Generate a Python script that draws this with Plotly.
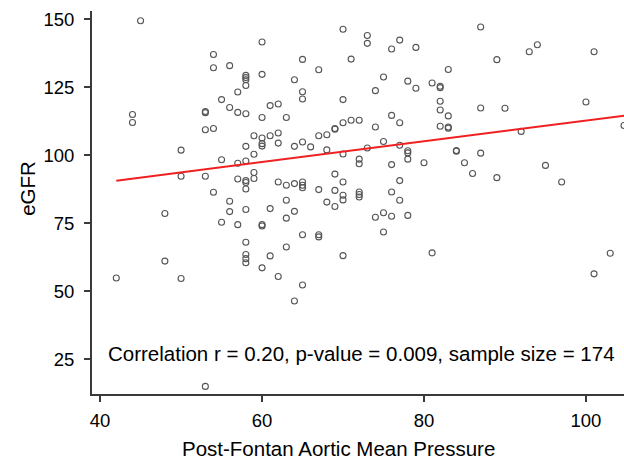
import plotly.graph_objects as go

# Post-Fontan aortic mean pressure (x) and eGFR (y)
pressure = [
    45, 54, 54, 56, 58, 58, 58, 58, 57, 55, 56, 57, 58, 53, 53, 44, 44, 53, 54, 59,
    58, 59, 50, 55, 57, 58, 50, 53, 57, 58, 58, 59, 59, 58, 54, 56, 56, 58, 55, 57,
    48, 58, 58, 58, 58, 48, 42, 50, 53,
    70, 73, 73, 77, 76, 79, 60, 65, 71, 67, 60, 64, 65, 65, 75, 78, 79, 81, 82, 82,
    74, 70, 61, 62, 60, 63, 70, 71, 72, 69, 69, 67, 68, 74, 76, 77, 60, 60, 60, 61,
    62, 62, 64, 65, 66, 68, 70, 73, 75, 77, 78, 78, 78, 80, 76, 72, 72, 62, 63, 64,
    65, 65, 65, 67, 69, 70, 69, 70, 70, 72, 72, 72, 77, 76,
    68, 69, 77, 74, 75, 76, 78, 75, 81, 61, 63, 64, 63, 60, 60, 61, 60, 63, 65, 67,
    67, 70, 62, 65, 64,
    87, 93, 94, 101, 89, 83, 82, 82, 83, 82, 83, 83, 87, 90, 100, 92, 104.7, 84, 84, 87,
    85, 86, 89, 95, 97, 101, 103,
]
egfr = [
    149.5, 137.1, 132.2, 133.0, 129.4, 128.6, 127.8, 125.7, 123.3, 120.5, 117.6, 115.8, 115.3, 116.1, 115.7, 115.0, 112.1, 109.4, 109.9, 107.2,
    103.3, 100.4, 101.9, 98.4, 97.1, 97.9, 92.3, 92.3, 91.3, 90.7, 90.0, 93.7, 91.5, 87.6, 86.4, 83.1, 79.3, 80.1, 75.4, 74.5,
    78.6, 68.0, 63.5, 62.0, 60.5, 61.1, 54.9, 54.7, 15.0,
    146.4, 144.1, 141.2, 142.4, 139.1, 139.7, 141.7, 135.3, 135.4, 131.5, 129.8, 127.8, 123.4, 120.7, 128.8, 127.3, 124.7, 126.6, 125.4, 124.9,
    123.8, 120.5, 118.3, 118.9, 113.9, 113.9, 112.0, 112.9, 112.9, 109.9, 109.6, 107.2, 107.6, 110.4, 114.7, 112.0, 106.4, 104.3, 103.4, 107.2,
    108.2, 104.5, 103.3, 104.9, 103.1, 102.0, 100.5, 102.7, 105.1, 103.7, 101.7, 100.9, 98.6, 97.3, 96.6, 98.6, 96.9, 90.2, 89.0, 89.6,
    90.2, 89.0, 88.1, 87.4, 93.1, 90.2, 87.1, 85.3, 83.6, 86.5, 85.6, 84.7, 90.7, 86.5,
    82.8, 81.2, 83.5, 77.2, 78.9, 77.6, 77.9, 71.8, 64.1, 80.4, 83.5, 79.4, 76.9, 74.5, 74.0, 63.0, 58.6, 66.3, 70.8, 70.8,
    70.0, 63.1, 55.4, 52.3, 46.4,
    147.2, 138.1, 140.7, 138.1, 135.2, 131.6, 119.9, 116.7, 114.5, 110.7, 110.4, 110.0, 117.4, 117.3, 119.6, 108.8, 111.0, 101.8, 101.5, 100.8,
    97.3, 93.3, 91.8, 96.3, 90.2, 56.4, 64.0,
]

# Linear fit
fit_intercept = 74.6
fit_slope = 0.382

x_ticks = [40, 60, 80, 100]
y_ticks = [25, 50, 75, 100, 125, 150]
annotation_text = "Correlation r = 0.20, p-value = 0.009, sample size = 174"

fx = [min(pressure), 106]
fy = [fit_intercept + fit_slope * v for v in fx]

FONT = "Arial, Liberation Sans, sans-serif"

fig = go.Figure()
fig.add_trace(go.Scatter(
    x=pressure, y=egfr, mode="markers",
    marker=dict(symbol="circle-open", size=6, color="#555555", line=dict(width=1.1, color="#555555")),
    showlegend=False,
))
fig.add_trace(go.Scatter(
    x=fx, y=fy, mode="lines",
    line=dict(color="#f02020", width=2),
    showlegend=False,
))

axis_common = dict(
    showgrid=False, zeroline=False, showline=True, linecolor="#3a3a3a", linewidth=2,
    ticks="outside", ticklen=6, tickwidth=1.5, tickcolor="#3a3a3a",
    tickfont=dict(family=FONT, size=18.5, color="#000"),
)
fig.update_xaxes(range=[39.0, 104.7], tickvals=x_ticks, ticklabelstandoff=3, **axis_common)
fig.update_yaxes(range=[12.2, 153.1], tickvals=y_ticks, ticklabelstandoff=6, **axis_common)

fig.add_annotation(x=72.3, y=27.2, xref="x", yref="y", text=annotation_text, showarrow=False,
                   xanchor="center", yanchor="middle", font=dict(family=FONT, size=20.5, color="#000"))
fig.add_annotation(x=(338 - 92) / 532, y=(394.3 - 449) / 383.3, xref="paper", yref="paper",
                   text="Post-Fontan Aortic Mean Pressure", showarrow=False,
                   xanchor="center", yanchor="middle", font=dict(family=FONT, size=20.5, color="#000"))
fig.add_annotation(x=(28 - 92) / 532, y=(394.3 - 189) / 383.3, xref="paper", yref="paper",
                   text="eGFR", textangle=-90, showarrow=False,
                   xanchor="center", yanchor="middle", font=dict(family=FONT, size=20.5, color="#000"))

fig.update_layout(
    width=624, height=464,
    margin=dict(l=92, r=0, t=11, b=70),
    plot_bgcolor="white", paper_bgcolor="white",
)
fig.write_html("out.html", config={"displayModeBar": False},
               post_script="document.body.style.margin='0';document.body.style.overflow='hidden';")
